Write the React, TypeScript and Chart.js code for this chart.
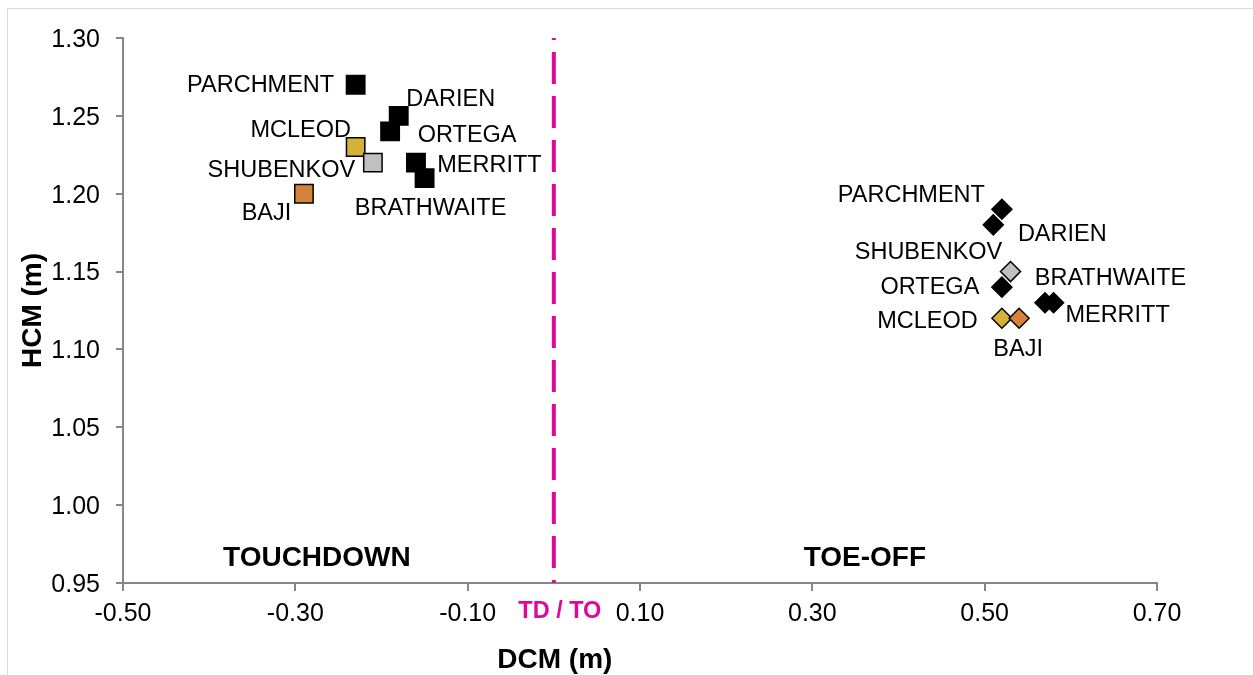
import React, { useEffect, useRef } from 'react';
import { Chart, registerables } from 'chart.js';

Chart.register(...registerables);

const athletes = ['PARCHMENT', 'DARIEN', 'ORTEGA', 'MCLEOD', 'SHUBENKOV', 'MERRITT', 'BRATHWAITE', 'BAJI'];
const touchdownDCM = [-0.23, -0.18, -0.19, -0.23, -0.21, -0.16, -0.15, -0.29];
const touchdownHCM = [1.27, 1.25, 1.24, 1.23, 1.22, 1.22, 1.21, 1.20];
const toeOffDCM = [0.52, 0.51, 0.52, 0.52, 0.53, 0.58, 0.57, 0.54];
const toeOffHCM = [1.19, 1.18, 1.14, 1.12, 1.15, 1.13, 1.13, 1.12];
const athleteColors = ['#000000', '#000000', '#000000', '#D5B13A', '#C0C0C0', '#000000', '#000000', '#D4843A'];

const xTicks = [-0.5, -0.3, -0.1, 0.1, 0.3, 0.5, 0.7];
const yTicks = [0.95, 1.0, 1.05, 1.1, 1.15, 1.2, 1.25, 1.3];

const phaseLabels = ['TOUCHDOWN', 'TOE-OFF'];
const phaseLabelDCM = [-0.275, 0.361];
const phaseLabelHCM = [0.967, 0.967];

const boundaryDCM = [0, 0];
const boundaryHCM = [1.3, 0.95];
const boundaryLabel = 'TD / TO';

// label placement (pixel offsets from each marker)
const tdLabelOffsets = [[-95, -1], [52, -18.5], [77, 2], [-55, -18.5], [-91.5, 6], [73.5, 0.5], [6, 28], [-37.5, 17.5]];
const toLabelOffsets = [[-90.5, -15.5], [69, 7.5], [-72, -2], [-74.5, 1], [-82, -21], [64, 10.5], [65.5, -26], [-1, 29]];

const FONT = "'Liberation Sans', Arial, sans-serif";
const MAGENTA = '#E0079B';
const AXIS = '#878787';
const TEXT_DY = 2;

export default function App() {
  const ref = useRef<HTMLCanvasElement | null>(null);

  useEffect(() => {
    if (!ref.current) return;
    Chart.defaults.font.family = FONT;

    const labelsPlugin = {
      id: 'customLabels',
      beforeDraw(chart: any) {
        const ctx = chart.ctx;
        ctx.save();
        ctx.fillStyle = '#ffffff';
        ctx.fillRect(0, 0, chart.width, chart.height);
        ctx.strokeStyle = '#D9D9D9';
        ctx.lineWidth = 1;
        ctx.strokeRect(7.5, 8.5, chart.width + 20, chart.height + 20);
        ctx.restore();
      },
      afterDatasetsDraw(chart: any) {
        const ctx = chart.ctx;
        const xs = chart.scales.x;
        const ys = chart.scales.y;
        ctx.save();
        ctx.fillStyle = '#000';
        ctx.textAlign = 'center';
        ctx.textBaseline = 'middle';
        ctx.font = `23.5px ${FONT}`;
        const offs = [tdLabelOffsets, toLabelOffsets];
        [1, 2].forEach((di, k) => {
          const meta = chart.getDatasetMeta(di);
          meta.data.forEach((pt: any, i: number) => {
            ctx.fillText(athletes[i], pt.x + offs[k][i][0], pt.y + offs[k][i][1] + TEXT_DY);
          });
        });
        ctx.font = `bold 28px ${FONT}`;
        phaseLabels.forEach((t, i) => {
          ctx.fillText(t, xs.getPixelForValue(phaseLabelDCM[i]), ys.getPixelForValue(phaseLabelHCM[i]) + TEXT_DY);
        });
        // boundary label in tick row
        ctx.fillStyle = MAGENTA;
        ctx.font = `bold 23.5px ${FONT}`;
        ctx.fillText(boundaryLabel, xs.getPixelForValue(0) + 6, 612);
        // x title
        ctx.fillStyle = '#000';
        ctx.font = `bold 28px ${FONT}`;
        ctx.fillText('DCM (m)', xs.getPixelForValue(0) + 1, 660);
        ctx.restore();
      },
    };

    const chart = new Chart(ref.current, {
      type: 'scatter',
      data: {
        datasets: [
          {
            type: 'line',
            data: boundaryDCM.map((x, i) => ({ x, y: boundaryHCM[i] })),
            borderColor: MAGENTA,
            borderWidth: 4,
            borderDash: [32, 12],
            borderDashOffset: 30,
            pointRadius: 0,
            fill: false,
          } as any,
          {
            data: touchdownDCM.map((x, i) => ({ x, y: touchdownHCM[i] })),
            pointStyle: 'rect',
            pointRadius: 13,
            pointHoverRadius: 13,
            backgroundColor: athleteColors,
            borderColor: '#000',
            borderWidth: 1.5,
          },
          {
            data: toeOffDCM.map((x, i) => ({ x, y: toeOffHCM[i] })),
            pointStyle: 'rectRot',
            pointRadius: 10,
            pointHoverRadius: 10,
            backgroundColor: athleteColors,
            borderColor: '#000',
            borderWidth: 1.5,
          },
        ],
      },
      options: {
        animation: false,
        responsive: false,
        devicePixelRatio: 1,
        layout: { padding: { left: 0, right: 96, top: 38, bottom: 0 } },
        plugins: { legend: { display: false }, tooltip: { enabled: false } },
        scales: {
          x: {
            type: 'linear',
            min: -0.5,
            max: 0.7,
            afterBuildTicks: (s: any) => {
              s.ticks = xTicks.map((v) => ({ value: v }));
            },
            afterFit: (s: any) => {
              s.height = 92;
            },
            grid: { display: true, drawOnChartArea: false, drawTicks: true, tickLength: 8, color: AXIS, lineWidth: 2 },
            border: { display: true, color: AXIS, width: 2 },
            ticks: {
              color: '#000',
              font: { size: 25 },
              padding: 8,
              maxRotation: 0,
              autoSkip: false,
              callback: (v: any) => Number(v).toFixed(2),
            },
            title: { display: false },
          },
          y: {
            type: 'linear',
            min: 0.95,
            max: 1.3,
            afterBuildTicks: (s: any) => {
              s.ticks = yTicks.map((v) => ({ value: v }));
            },
            afterFit: (s: any) => {
              s.width = 123;
            },
            grid: { display: true, drawOnChartArea: false, drawTicks: true, tickLength: 7, color: AXIS, lineWidth: 2 },
            border: { display: true, color: AXIS, width: 2 },
            ticks: {
              color: '#000',
              font: { size: 25 },
              padding: 16,
              labelOffset: 2,
              autoSkip: false,
              callback: (v: any) => Number(v).toFixed(2),
            },
            title: {
              display: true,
              text: 'HCM (m)',
              color: '#000',
              font: { size: 28, weight: 'bold' },
              padding: { top: 16, bottom: 0 },
            },
          },
        },
      },
      plugins: [labelsPlugin],
    } as any);

    return () => chart.destroy();
  }, []);

  return (
    <div style={{ position: 'fixed', left: 0, top: 0, width: 1253, height: 675, background: '#fff' }}>
      <canvas ref={ref} width={1253} height={675} style={{ display: 'block' }} />
    </div>
  );
}
